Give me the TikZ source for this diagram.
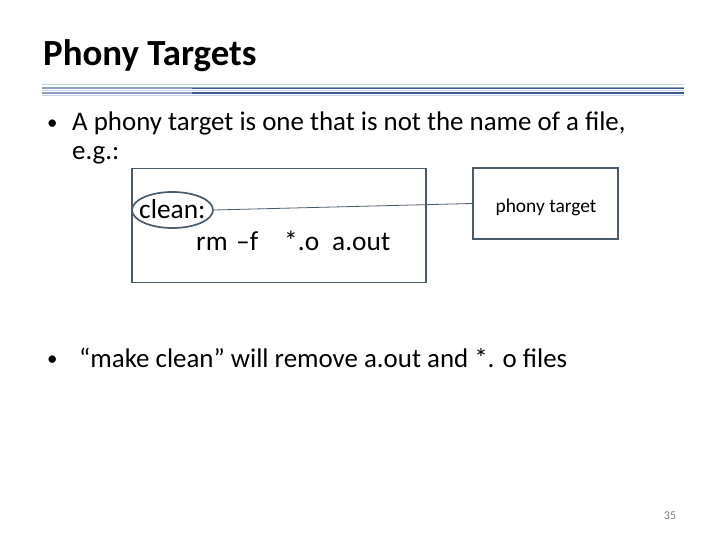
\documentclass[tikz,border=0pt]{standalone}
\usepackage{fontspec}
\setmainfont{Carlito}
\usetikzlibrary{shapes.geometric}
\definecolor{boxc}{HTML}{4A5B6C}
\definecolor{rulelight}{HTML}{C5D2E8}
\definecolor{rulemid}{HTML}{8C9FC2}
\definecolor{ruledark}{HTML}{3A5A8C}
\tikzset{
  boxstyle/.style={draw=boxc, line width=1.7pt},
  bodytext/.style={anchor=base west, inner sep=0pt, font=\fontsize{27}{32}\selectfont},
  codetext/.style={anchor=base west, inner sep=0pt, font=\fontsize{27.5}{31}\selectfont},
}
\begin{document}
\begin{tikzpicture}[x=1bp,y=-1bp]
\useasboundingbox (0,0) rectangle (720,540);
% title
\node[anchor=base west, inner sep=0pt, font=\fontsize{37}{42}\selectfont\bfseries] (title) at (43,66) {Phony Targets};
% rule
\draw[rulelight, line width=1.2pt] (42,84.5) -- (684,84.5);
\draw[rulemid, line width=1.2pt] (42,88) -- (684,88);
\draw[rulelight, line width=1pt] (42,90.5) -- (684,90.5);
\draw[rulemid, line width=1.2pt] (42,93) -- (684,93);
\draw[rulelight, line width=1pt] (42,95.5) -- (684,95.5);
\draw[ruledark, line width=1.2pt] (192,88.5) -- (684,88.5);
\draw[ruledark, line width=1.2pt] (192,93) -- (684,93);
% bullet 1
\node[bodytext, font=\fontsize{21}{24}\selectfont] (b1) at (47,130) {•};
\node[bodytext] (t1) at (72,131) {A phony target is one that is not the name of a file,};
\node[bodytext] (t1b) at (72,160) {e.g.:};
% left box
\node[boxstyle, minimum width=294bp, minimum height=114bp, inner sep=0pt] (lbox) at (279,225.5) {};
\node[codetext] (clean) at (139,219) {clean:};
\node[codetext] (rm) at (196,251) {\makebox[40bp][l]{rm}\makebox[48bp][l]{–f}\makebox[48bp][l]{*.o}a.out};
\node[draw=boxc, line width=1.7pt, ellipse, minimum width=81bp, minimum height=36bp, inner sep=0pt] (ell) at (172.5,210) {};
% right box
\node[boxstyle, minimum width=145bp, minimum height=71bp, inner sep=0pt] (rbox) at (545.5,203.5) {};
\node[anchor=base, inner sep=0pt, font=\fontsize{19.5}{23}\selectfont] (rlabel) at (546,213) {phony target};
\draw[boxc, line width=0.8pt] (ell.east) -- (rbox.west);
% bullet 2
\node[bodytext, font=\fontsize{21}{24}\selectfont] (b2) at (47,365) {•};
\node[bodytext] (t2) at (79,367) {“make clean” will remove a.out and *. o files};
% page number
\node[anchor=base, inner sep=0pt, font=\fontsize{12}{14}\selectfont, text=gray] (pg) at (670,519) {35};
\end{tikzpicture}
\end{document}
